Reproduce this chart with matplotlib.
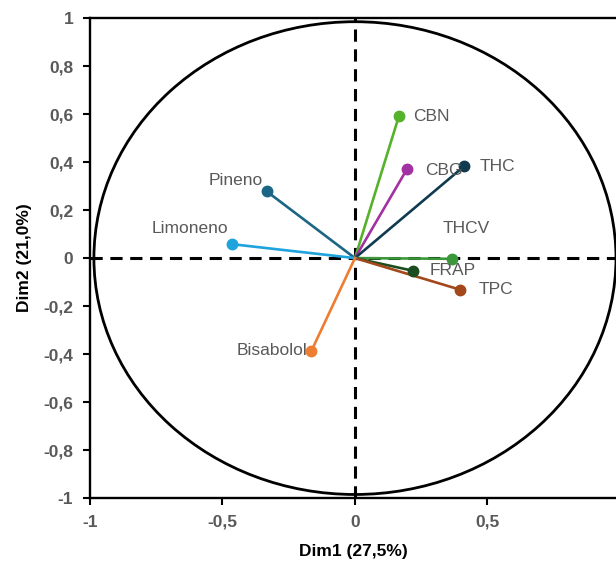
import matplotlib.pyplot as plt
from matplotlib.patches import Ellipse

# Variable loadings on the first two dimensions
variables = ['CBN', 'CBG', 'THC', 'THCV', 'FRAP', 'TPC', 'Pineno', 'Limoneno', 'Bisabolol']
dim1 = [0.166, 0.197, 0.411, 0.367, 0.220, 0.398, -0.333, -0.464, -0.164]
dim2 = [0.592, 0.372, 0.382, -0.003, -0.053, -0.132, 0.278, 0.058, -0.386]
colors = ['#55b22a', '#a232a2', '#0f3a4f', '#3a983a', '#1b4d20', '#a3481b',
          '#1b6585', '#1ea3dc', '#ed7d31']

x_ticks = [-1, -0.5, 0, 0.5]
y_ticks = [1, 0.8, 0.6, 0.4, 0.2, 0, -0.2, -0.4, -0.6, -0.8, -1]

# label placement: (dx, dy) in points, horizontal alignment
label_pos = {
    'CBN': (10, 0, 'left'),
    'CBG': (13, -1, 'left'),
    'THC': (11, 0, 'left'),
    'THCV': (10, 22, 'center'),
    'FRAP': (12, 0, 'left'),
    'TPC': (13, 0, 'left'),
    'Pineno': (-3, 8, 'right'),
    'Limoneno': (-3, 11, 'right'),
    'Bisabolol': (-3, 0, 'right'),
}

plt.rcParams['font.family'] = ['Liberation Sans', 'DejaVu Sans']

fig = plt.figure(figsize=(6.16, 5.66), dpi=100)
ax = fig.add_axes([0.146, 0.12, 0.854, 0.848])

# correlation circle
ax.add_patch(Ellipse((0, 0), 1.97, 1.97, fill=False, edgecolor='black', linewidth=2, zorder=1))

# dashed reference axes
ax.axhline(0, color='black', linestyle=(0, (4, 2.5)), linewidth=2.2, zorder=2)
ax.axvline(0, color='black', linestyle=(0, (4, 2.5)), linewidth=2.2, zorder=2)

for name, x, y, c in zip(variables, dim1, dim2, colors):
    ax.plot([0, x], [0, y], color=c, linewidth=1.9, zorder=3)
    ax.plot(x, y, 'o', color=c, markersize=7.5, zorder=4)
    dx, dy, ha = label_pos[name]
    ax.annotate(name, (x, y), xytext=(dx, dy), textcoords='offset points',
                ha=ha, va='center', fontsize=12.5, color='#595959', zorder=5)

ax.set_xlim(-1, 0.985)
ax.set_ylim(-1, 1)
ax.set_xticks(x_ticks)
ax.set_xticklabels([f'{v:g}'.replace('.', ',') for v in x_ticks])
ax.set_yticks(y_ticks)
ax.set_yticklabels([f'{v:g}'.replace('.', ',') for v in y_ticks])

for side in ['left', 'top', 'bottom']:
    ax.spines[side].set_linewidth(1.7)
ax.spines['right'].set_visible(False)

ax.tick_params(direction='out', length=5, width=1.5, colors='black', labelcolor='#595959',
               labelsize=12.5, pad=7)
for lbl in ax.get_xticklabels() + ax.get_yticklabels():
    lbl.set_fontweight('bold')

ax.set_xlabel('Dim1 (27,5%)', fontsize=12.5, fontweight='bold', labelpad=10)
ax.set_ylabel('Dim2 (21,0%)', fontsize=12.5, fontweight='bold', labelpad=8)

plt.savefig('out.png', dpi=100)
